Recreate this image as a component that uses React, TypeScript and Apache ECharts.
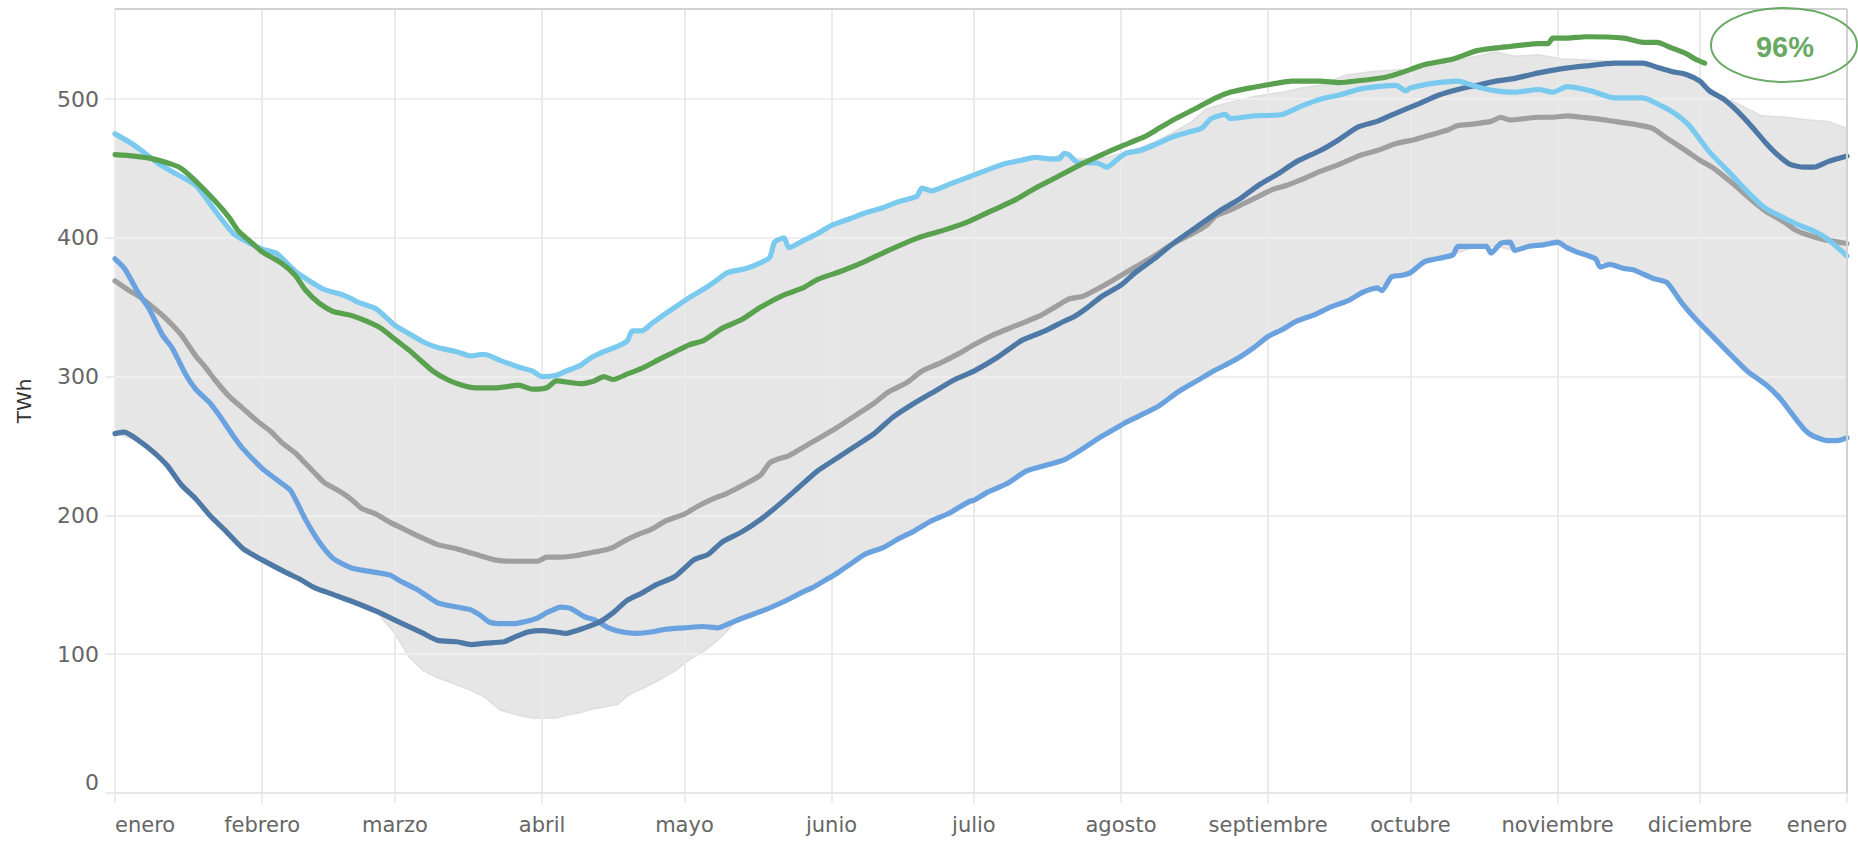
import React, { useEffect, useRef } from "react";
import * as echarts from "echarts";

const monthStarts = [0, 31, 59, 90, 120, 151, 181, 212, 243, 273, 304, 334, 365];
const monthNames = ["enero", "febrero", "marzo", "abril", "mayo", "junio", "julio", "agosto", "septiembre", "octubre", "noviembre", "diciembre", "enero"];
const yTicks = [0, 100, 200, 300, 400, 500];

// current year (green) – ends early December
const green: [number, number][] = [
  [0, 460], [4, 459], [8, 457], [12, 453], [14, 450], [17, 441], [21, 427], [24, 415], [26, 405], [29, 396], [31, 390], [35, 382], [38, 373], [40, 363], [43, 353], [46, 347], [50, 344], [53, 340], [56, 335], [59, 327], [62, 319], [64, 313], [67, 304], [70, 298], [73, 294], [76, 292], [80, 292], [83, 293], [85, 294], [88, 291], [91, 292], [93, 297], [98, 295], [101, 297], [103, 300], [105, 298], [108, 302], [111, 306], [115, 313], [118, 318], [121, 323], [124, 326], [128, 335], [132, 341], [136, 350], [141, 359], [145, 364], [148, 370], [153, 376], [158, 383], [163, 391], [167, 397], [170, 401], [175, 406], [180, 412], [185, 420], [190, 428], [194, 436], [198, 443], [203, 452], [208, 460], [212, 466], [217, 473], [220, 479], [223, 485], [227, 492], [232, 501], [235, 505], [239, 508], [244, 511], [248, 513], [254, 513], [258, 512], [264, 514], [268, 516], [271, 519], [276, 525], [282, 529], [287, 535], [291, 537], [294, 538], [300, 540], [302, 540], [303, 544], [306, 544], [310, 545], [318, 544], [322, 541], [325, 541], [328, 537], [331, 533], [333, 529], [335, 526]
];

const lightBlue: [number, number][] = [
  [0, 475], [4, 467], [9, 454], [13, 446], [17, 438], [21, 420], [25, 403], [28, 397], [31, 392], [34, 389], [38, 376], [41, 369], [44, 363], [48, 359], [50, 356], [51, 354], [55, 349], [59, 337], [62, 331], [65, 325], [68, 321], [72, 318], [75, 315], [77, 316], [78, 316], [81, 312], [85, 307], [88, 304], [90, 300], [93, 301], [95, 304], [98, 308], [100, 313], [103, 318], [106, 322], [108, 326], [109, 333], [111, 333], [113, 338], [115, 343], [118, 350], [121, 357], [124, 363], [127, 370], [129, 375], [133, 378], [136, 382], [138, 386], [139, 397], [141, 400], [142, 393], [145, 398], [148, 403], [151, 409], [155, 414], [158, 418], [162, 422], [165, 426], [169, 430], [170, 436], [172, 434], [176, 439], [180, 444], [183, 448], [187, 453], [191, 456], [194, 458], [197, 457], [199, 457], [200, 461], [201, 460], [203, 454], [207, 454], [209, 451], [211, 456], [213, 461], [216, 463], [219, 467], [223, 473], [226, 476], [229, 479], [231, 486], [234, 489], [235, 486], [240, 488], [246, 489], [250, 495], [254, 500], [258, 503], [262, 507], [266, 509], [270, 510], [272, 506], [273, 508], [277, 511], [283, 513], [287, 509], [291, 506], [295, 505], [300, 507], [303, 505], [306, 509], [311, 506], [316, 501], [322, 501], [326, 495], [329, 489], [332, 480], [336, 462], [340, 448], [345, 430], [348, 421], [352, 414], [355, 409], [358, 405], [361, 399], [365, 387]
];

const darkBlue: [number, number][] = [
  [0, 259], [2, 260], [5, 254], [8, 246], [11, 236], [14, 222], [17, 212], [20, 200], [23, 190], [27, 176], [31, 168], [36, 159], [39, 154], [42, 148], [46, 143], [50, 138], [55, 131], [60, 123], [65, 115], [68, 110], [72, 109], [75, 107], [78, 108], [82, 109], [84, 112], [87, 116], [90, 117], [93, 116], [95, 115], [99, 119], [102, 123], [105, 130], [108, 139], [111, 144], [114, 150], [118, 156], [122, 168], [125, 172], [128, 181], [132, 188], [136, 197], [140, 208], [144, 220], [148, 232], [152, 241], [156, 250], [160, 259], [164, 271], [168, 280], [172, 288], [177, 298], [181, 304], [186, 314], [191, 326], [196, 333], [200, 340], [202, 343], [205, 350], [208, 358], [212, 366], [215, 375], [219, 385], [223, 396], [228, 408], [233, 420], [237, 428], [241, 438], [245, 446], [249, 455], [254, 463], [258, 471], [262, 480], [266, 484], [270, 490], [275, 497], [279, 503], [283, 507], [287, 510], [291, 513], [295, 515], [300, 519], [305, 522], [310, 524], [316, 526], [322, 526], [325, 523], [328, 520], [331, 518], [334, 513], [336, 506], [339, 500], [342, 491], [345, 480], [348, 468], [350, 461], [353, 453], [356, 451], [358, 451], [361, 455], [365, 459]
];

const midBlue: [number, number][] = [
  [0, 385], [2, 378], [5, 360], [7, 350], [10, 330], [12, 321], [15, 301], [17, 291], [20, 281], [22, 272], [25, 257], [27, 248], [31, 234], [34, 226], [37, 218], [40, 198], [43, 181], [46, 169], [50, 162], [55, 159], [58, 157], [60, 153], [64, 146], [68, 137], [72, 134], [75, 132], [77, 128], [79, 123], [82, 122], [84, 122], [87, 124], [89, 126], [91, 130], [94, 134], [96, 133], [99, 127], [101, 125], [104, 119], [107, 116], [110, 115], [113, 116], [116, 118], [120, 119], [124, 120], [127, 119], [130, 123], [133, 127], [137, 132], [141, 138], [145, 145], [147, 148], [150, 154], [152, 158], [155, 165], [158, 172], [162, 177], [165, 183], [168, 188], [172, 196], [176, 202], [180, 210], [181, 211], [184, 217], [188, 223], [192, 232], [196, 236], [200, 240], [203, 246], [207, 255], [210, 261], [213, 267], [216, 272], [220, 279], [224, 289], [228, 297], [232, 305], [236, 312], [240, 321], [243, 329], [246, 334], [249, 340], [253, 345], [256, 350], [260, 355], [263, 361], [266, 364], [267, 362], [269, 372], [271, 373], [273, 375], [276, 383], [280, 386], [282, 388], [283, 394], [286, 394], [289, 394], [290, 389], [292, 396], [294, 397], [295, 391], [298, 394], [301, 395], [304, 397], [306, 393], [308, 390], [312, 385], [313, 379], [315, 381], [318, 378], [320, 377], [324, 371], [327, 368], [330, 354], [333, 342], [337, 328], [341, 314], [344, 304], [348, 294], [351, 284], [353, 275], [356, 262], [358, 257], [361, 254], [363, 254], [365, 256]
];

const meanLine: [number, number][] = [
  [0, 369], [3, 362], [5, 358], [8, 350], [11, 341], [14, 330], [17, 315], [19, 307], [21, 298], [24, 286], [27, 277], [30, 268], [33, 260], [35, 253], [38, 245], [40, 238], [42, 231], [44, 224], [46, 220], [48, 216], [50, 211], [52, 205], [55, 201], [58, 195], [61, 190], [64, 185], [68, 179], [72, 176], [75, 173], [77, 171], [80, 168], [84, 167], [89, 167], [91, 170], [94, 170], [97, 171], [100, 173], [103, 175], [105, 177], [107, 181], [110, 186], [113, 190], [116, 196], [120, 201], [123, 207], [126, 212], [129, 216], [133, 223], [136, 229], [138, 238], [140, 241], [142, 243], [145, 249], [148, 255], [152, 263], [156, 272], [160, 281], [163, 289], [167, 296], [170, 304], [174, 310], [178, 317], [181, 323], [185, 330], [190, 337], [195, 344], [199, 352], [201, 356], [204, 358], [208, 365], [212, 373], [215, 379], [219, 387], [223, 396], [227, 403], [230, 409], [232, 416], [235, 420], [238, 425], [241, 430], [244, 435], [247, 438], [250, 442], [254, 448], [258, 453], [262, 459], [266, 463], [270, 468], [274, 471], [278, 475], [281, 478], [283, 481], [286, 482], [290, 484], [292, 487], [294, 485], [297, 486], [300, 487], [303, 487], [306, 488], [309, 487], [312, 486], [316, 484], [320, 482], [324, 479], [327, 472], [331, 463], [334, 456], [337, 450], [341, 439], [345, 427], [348, 419], [352, 411], [354, 406], [356, 403], [360, 399], [365, 396]
];

// historical range (min / max)
const bandDays = [0, 4, 9, 13, 17, 21, 25, 28, 31, 34, 38, 41, 44, 48, 51, 55, 59, 62, 65, 68, 72, 75, 78, 81, 85, 88, 90, 93, 95, 98, 100, 103, 106, 108, 109, 111, 115, 118, 121, 124, 127, 131, 135, 138, 139, 141, 142, 145, 148, 151, 155, 158, 162, 165, 169, 170, 172, 176, 180, 183, 187, 191, 194, 197, 200, 203, 207, 209, 213, 216, 219, 223, 227, 230, 234, 240, 246, 250, 254, 259, 265, 270, 275, 281, 287, 291, 295, 300, 305, 311, 316, 322, 327, 331, 335, 340, 343, 347, 352, 357, 361, 365];
const bandMax = [475, 467, 454, 446, 438, 420, 403, 397, 392, 389, 376, 369, 363, 359, 354, 349, 337, 331, 325, 321, 318, 315, 316, 312, 307, 304, 300, 301, 304, 308, 313, 318, 322, 326, 333, 333, 343, 350, 357, 363, 370, 376, 381, 386, 397, 400, 393, 398, 403, 409, 414, 418, 422, 426, 430, 436, 434, 439, 444, 448, 453, 456, 458, 457, 461, 457, 457, 458, 462, 465, 469, 476, 484, 493, 497, 502, 505, 508, 510, 517, 520, 521, 522, 527, 531, 534, 531, 532, 529, 528, 527, 526, 521, 518, 510, 500, 495, 488, 487, 485, 484, 479];
const bandMin = [259, 255, 243, 226, 212, 196, 183, 174, 168, 162, 156, 150, 145, 140, 137, 131, 115, 98, 88, 83, 78, 74, 69, 60, 56, 54, 54, 54, 56, 58, 60, 62, 64, 70, 72, 75, 82, 88, 96, 102, 110, 124, 130, 133, 135, 138, 140, 145, 150, 156, 165, 172, 177, 183, 190, 192, 196, 202, 210, 215, 221, 230, 234, 237, 240, 246, 255, 259, 267, 272, 277, 287, 295, 301, 308, 321, 334, 341, 346, 353, 363, 372, 380, 387, 394, 394, 391, 395, 395, 386, 380, 374, 368, 350, 335, 317, 307, 297, 280, 260, 254, 256];

const dayCategories = Array.from({ length: 366 }, (_, i) => String(i));
const isMonthStart = (i: number) => monthStarts.indexOf(i) >= 0;

const FONT = "'DejaVu Sans', Verdana, sans-serif";

function lineSeries(name: string, data: [number, number][], color: string, z: number) {
  return {
    name,
    type: "line",
    data,
    showSymbol: false,
    symbol: "none",
    smooth: 0.2,
    z,
    lineStyle: { color, width: 5.2, cap: "round", join: "round" },
    emphasis: { disabled: true },
  };
}

export default function App() {
  const ref = useRef<HTMLDivElement>(null);
  useEffect(() => {
    document.body.style.margin = "0";
    const chart = echarts.init(ref.current!, null, { renderer: "svg" });
    const option: any = {
      animation: false,
      backgroundColor: "#ffffff",
      grid: { left: 115, right: 11, top: 9, bottom: 48, containLabel: false },
      xAxis: {
        type: "category",
        boundaryGap: false,
        data: dayCategories,
        axisLine: { show: true, lineStyle: { color: "#e6e6e6", width: 2 } },
        axisTick: { show: true, interval: (i: number) => isMonthStart(i), length: 10, lineStyle: { color: "#e6e6e6", width: 1.5 } },
        splitLine: { show: true, interval: (i: number) => isMonthStart(i), lineStyle: { color: "#eaeaea", width: 2 } },
        axisLabel: {
          interval: (i: number) => isMonthStart(i),
          formatter: (_v: string, i: number) => monthNames[monthStarts.indexOf(i)] ?? "",
          color: "#666666",
          fontFamily: FONT,
          fontSize: 21,
          margin: 21,
          alignMinLabel: "left",
          alignMaxLabel: "right",
        },
      },
      yAxis: {
        type: "value",
        min: 0,
        max: 565,
        interval: 100,
        axisLine: { show: true, lineStyle: { color: "#ececec", width: 2 } },
        axisTick: { show: true, length: 10, lineStyle: { color: "#e6e6e6", width: 1.5 } },
        splitLine: { show: true, lineStyle: { color: "#eeeeee", width: 2 } },
        axisLabel: {
          color: "#666666",
          fontFamily: FONT,
          fontSize: 22,
          margin: 16,
          showMaxLabel: false,
          verticalAlignMinLabel: "bottom",
          formatter: (v: number) => (yTicks.indexOf(v) >= 0 ? String(v) : ""),
        },
      },
      series: [
        {
          name: "min",
          type: "line",
          stack: "band",
          data: bandDays.map((d, i) => [d, bandMin[i]]),
          symbol: "none",
          showSymbol: false,
          z: -1,
          lineStyle: { color: "#dedede", width: 1.5 },
          emphasis: { disabled: true },
        },
        {
          name: "max",
          type: "line",
          stack: "band",
          data: bandDays.map((d, i) => [d, bandMax[i] - bandMin[i]]),
          symbol: "none",
          showSymbol: false,
          z: -1,
          lineStyle: { color: "#dedede", width: 1.5 },
          areaStyle: { color: "#e6e6e6", opacity: 1 },
          emphasis: { disabled: true },
        },
        lineSeries("media", meanLine, "#9f9f9f", 3),
        lineSeries("azul medio", midBlue, "#6aa2df", 4),
        lineSeries("azul oscuro", darkBlue, "#4e79a7", 5),
        lineSeries("celeste", lightBlue, "#7acaf0", 6),
        lineSeries("actual", green, "#59a14f", 7),
      ],
      graphic: [
        { type: "line", z: 10, shape: { x1: 115, y1: 9, x2: 1847, y2: 9 }, style: { stroke: "#d2d2d2", lineWidth: 2 } },
        { type: "line", z: 10, shape: { x1: 1847, y1: 9, x2: 1847, y2: 793 }, style: { stroke: "#d2d2d2", lineWidth: 2 } },
        {
          type: "text",
          z: 10,
          x: 24,
          y: 401,
          rotation: Math.PI / 2,
          style: { text: "TWh", fill: "#333333", font: "20px 'DejaVu Sans', sans-serif", textAlign: "center", textVerticalAlign: "middle", align: "center", verticalAlign: "middle" },
        },
        {
          type: "ellipse",
          z: 20,
          shape: { cx: 1784, cy: 45, rx: 73, ry: 37 },
          style: { fill: "rgba(255,255,255,0)", stroke: "#6aaa64", lineWidth: 2 },
        },
        {
          type: "text",
          z: 21,
          x: 1785,
          y: 47,
          style: { text: "96%", fill: "#69a963", font: "bold 29px 'Liberation Sans', Arial, sans-serif", textAlign: "center", textVerticalAlign: "middle", align: "center", verticalAlign: "middle" },
        },
      ],
    };
    chart.setOption(option);
    return () => chart.dispose();
  }, []);
  return <div ref={ref} style={{ width: 1858, height: 841 }} />;
}
